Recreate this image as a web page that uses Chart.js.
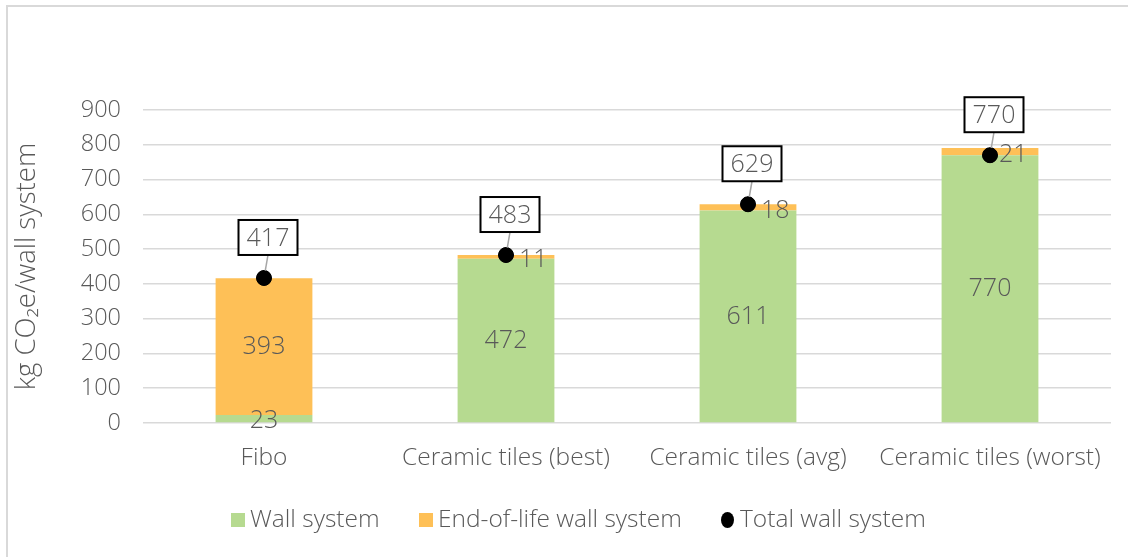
<!DOCTYPE html>
<html>
<head>
<meta charset="utf-8">
<script src="https://cdn.jsdelivr.net/npm/chart.js@4"></script>
<style>
  html, body { margin: 0; padding: 0; background: #fff; }
  #wrap { width: 1128px; height: 557px; position: relative; }
</style>
</head>
<body>
<div id="wrap"><canvas id="wallChart" width="1128" height="557"></canvas></div>
<script>
// values
const categories = ['Fibo', 'Ceramic tiles (best)', 'Ceramic tiles (avg)', 'Ceramic tiles (worst)'];
const wallSystem = [23, 472, 611, 770];
const endOfLife = [393, 11, 18, 21];
const totalWall = [417, 483, 629, 770];
const yTicks = [0, 100, 200, 300, 400, 500, 600, 700, 800, 900];

const FONT = "'Open Sans', 'Noto Sans', sans-serif";
const TXT = '#595959';
const GREEN = '#b6da90';
const ORANGE = '#fec057';

// frame around the chart, like the exported Excel picture
const framePlugin = {
  id: 'frame',
  beforeDraw(chart) {
    const ctx = chart.ctx;
    ctx.save();
    ctx.fillStyle = '#fff';
    ctx.fillRect(0, 0, chart.width, chart.height);
    ctx.strokeStyle = '#d9d9d9';
    ctx.lineWidth = 2;
    ctx.beginPath();
    ctx.moveTo(7, chart.height);
    ctx.lineTo(7, 6);
    ctx.lineTo(chart.width, 6);
    ctx.stroke();
    ctx.restore();
  }
};

// value labels for bar segments and boxed totals
const labelPlugin = {
  id: 'labels',
  afterDatasetsDraw(chart) {
    const ctx = chart.ctx;
    ctx.save();
    ctx.font = '300 25px ' + FONT;
    ctx.fillStyle = TXT;
    ctx.textBaseline = 'middle';

    // wall system labels, centred in the green part
    chart.getDatasetMeta(0).data.forEach((bar, i) => {
      ctx.textAlign = 'center';
      let y = (bar.y + bar.base) / 2;
      if (wallSystem[i] < 50) y = bar.base - 1;
      ctx.fillText(String(wallSystem[i]), bar.x, y);
    });

    // end-of-life labels; thin ones pushed to the right of the dot
    chart.getDatasetMeta(1).data.forEach((bar, i) => {
      const y = (bar.y + bar.base) / 2;
      if (endOfLife[i] > 50) {
        ctx.textAlign = 'center';
        ctx.fillText(String(endOfLife[i]), bar.x, y);
      } else {
        ctx.textAlign = 'left';
        ctx.fillText(String(endOfLife[i]), bar.x + (i == 3 ? 9 : 13), y + 3);
      }
    });

    // total labels in boxes with a leader line
    chart.getDatasetMeta(2).data.forEach((pt, i) => {
      const bx = pt.x + 4;
      const bBottom = pt.y - 23;
      const bw = 59, bh = 35;
      ctx.strokeStyle = '#a6a6a6';
      ctx.lineWidth = 1.5;
      ctx.beginPath();
      ctx.moveTo(pt.x, pt.y);
      ctx.lineTo(bx, bBottom);
      ctx.stroke();
      ctx.fillStyle = '#fff';
      ctx.fillRect(bx - bw / 2, bBottom - bh, bw, bh);
      ctx.strokeStyle = '#000';
      ctx.lineWidth = 2;
      ctx.strokeRect(bx - bw / 2, bBottom - bh, bw, bh);
      ctx.fillStyle = TXT;
      ctx.textAlign = 'center';
      ctx.fillText(String(totalWall[i]), bx, bBottom - bh / 2 + 1);
    });
    // redraw the dots on top of the leader lines
    chart.getDatasetMeta(2).data.forEach(pt => {
      ctx.fillStyle = '#000';
      ctx.beginPath();
      ctx.arc(pt.x, pt.y, 7.5, 0, Math.PI * 2);
      ctx.fill();
    });
    ctx.restore();
  }
};

// legend drawn by hand to get Excel's wide spacing
const legendItems = [
  { text: 'Wall system', color: GREEN, shape: 'rect', x: 231 },
  { text: 'End-of-life wall system', color: ORANGE, shape: 'rect', x: 419 },
  { text: 'Total wall system', color: '#000', shape: 'circle', x: 721 }
];
const legendPlugin = {
  id: 'myLegend',
  afterDraw(chart) {
    const ctx = chart.ctx;
    const y = 520;
    ctx.save();
    ctx.font = '300 24.5px ' + FONT;
    ctx.textBaseline = 'middle';
    ctx.textAlign = 'left';
    for (let it of legendItems) {
      ctx.fillStyle = it.color;
      if (it.shape == 'rect') {
        ctx.fillRect(it.x, y - 7, 14, 14);
      } else {
        ctx.beginPath();
        ctx.ellipse(it.x + 6.5, y, 6.5, 8, 0, 0, Math.PI * 2);
        ctx.fill();
      }
      ctx.fillStyle = TXT;
      ctx.fillText(it.text, it.x + 19, y);
    }
    ctx.restore();
  }
};

const ctx = document.getElementById('wallChart').getContext('2d');
const wallChart = new Chart(ctx, {
  type: 'bar',
  data: {
    labels: categories,
    datasets: [{
      label: 'Wall system',
      data: wallSystem,
      backgroundColor: GREEN,
      stack: 'bars',
      barPercentage: 0.4,
      categoryPercentage: 1.0,
      order: 2
    }, {
      label: 'End-of-life wall system',
      data: endOfLife,
      backgroundColor: ORANGE,
      stack: 'bars',
      barPercentage: 0.4,
      categoryPercentage: 1.0,
      order: 2
    }, {
      type: 'line',
      label: 'Total wall system',
      data: totalWall,
      stack: 'total',
      showLine: false,
      pointRadius: 7.5,
      pointBackgroundColor: '#000',
      pointBorderColor: '#000',
      order: 1
    }]
  },
  options: {
    responsive: false,
    animation: false,
    layout: { padding: { left: 8, right: 17, top: 110, bottom: 74 } },
    plugins: {
      legend: { display: false },
      tooltip: { enabled: false }
    },
    scales: {
      x: {
        stacked: true,
        grid: { display: false },
        border: { display: false },
        ticks: { color: TXT, font: { family: FONT, size: 24.5, weight: 300 }, padding: 12 },
        afterFit(scale) { scale.height = 60; }
      },
      y: {
        stacked: true,
        min: 0,
        max: 900,
        afterBuildTicks(scale) { scale.ticks = yTicks.map(v => ({ value: v })); },
        grid: { color: '#d9d9d9', lineWidth: 1.5, drawTicks: false },
        border: { display: false },
        ticks: { color: TXT, font: { family: FONT, size: 23.5, weight: 300 }, padding: 22 },
        title: {
          display: true,
          text: 'kg CO\u2082e/wall system',
          color: TXT,
          font: { family: FONT, size: 27.5, weight: 300 },
          padding: { top: 3, bottom: 0 }
        },
        afterFit(scale) { scale.width = 135; }
      }
    }
  },
  plugins: [framePlugin, labelPlugin, legendPlugin]
});
</script>
</body>
</html>
